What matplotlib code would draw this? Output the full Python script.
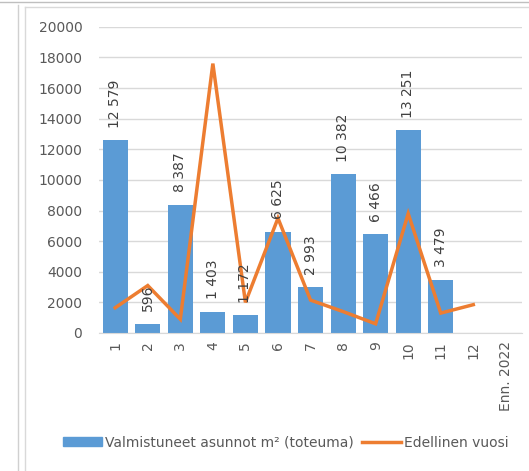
import numpy as np
import matplotlib.pyplot as plt
from matplotlib.lines import Line2D

# kuukaudet + ennuste
categories = ["1", "2", "3", "4", "5", "6", "7", "8", "9", "10", "11", "12", "Enn. 2022"]
toteuma = [12579, 596, 8387, 1403, 1172, 6625, 2993, 10382, 6466, 13251, 3479, np.nan, np.nan]
edellinen = [1650, 3100, 900, 17600, 2000, 7500, 2150, 1400, 600, 7800, 1300, 1850, np.nan]

blue = "#5B9BD5"
orange = "#ED7D31"
grey_txt = "#595959"

fig = plt.figure(figsize=(5.29, 4.71), dpi=100)
ax = fig.add_axes([0.187, 0.293, 0.80, 0.65])

x = np.arange(len(categories))
bars = ax.bar(x, toteuma, width=0.77, color=blue, zorder=2)
ax.plot(x, edellinen, color=orange, lw=2.5, zorder=3, solid_joinstyle="miter")

for xi, v in zip(x, toteuma):
    if np.isnan(v):
        continue
    lbl = f"{int(v):,}".replace(",", " ")
    ax.annotate(lbl, (xi, v), xytext=(0, 9), textcoords="offset points",
                rotation=90, ha="center", va="bottom", fontsize=10, color="#404040", zorder=4)

ax.set_xlim(-0.5, len(categories) - 0.5)
ax.set_ylim(0, 20000)
ax.set_yticks(np.arange(0, 20001, 2000))
ax.set_xticks(x)
ax.set_xticklabels(categories, rotation=90)
ax.tick_params(axis="both", length=0, labelsize=10, colors=grey_txt)
ax.tick_params(axis="y", pad=12)
ax.tick_params(axis="x", pad=6)
ax.grid(axis="y", color="#D9D9D9", lw=1, zorder=0)
for s in ["left", "right", "top"]:
    ax.spines[s].set_visible(False)
ax.spines["bottom"].set_color("#D9D9D9")

# legend
handles = [plt.Rectangle((0, 0), 1, 1, color=blue), Line2D([0], [0], color=orange, lw=2.5)]
fig.legend(handles, ["Valmistuneet asunnot m² (toteuma)", "Edellinen vuosi"],
           loc="center", bbox_to_anchor=(0.54, 0.06), ncol=2, frameon=False,
           fontsize=10, handlelength=2.8, handleheight=0.6, columnspacing=0.6,
           handletextpad=0.2, labelcolor=grey_txt)

# panel borders
fig.add_artist(Line2D([0.034, 0.034], [0, 0.99], color="#D0D0D0", lw=1))
fig.add_artist(Line2D([0.047, 0.047], [0, 0.985], color="#D9D9D9", lw=1))
fig.add_artist(Line2D([0.047, 1.0], [0.985, 0.985], color="#D9D9D9", lw=1))
fig.add_artist(Line2D([0.0, 1.0], [0.995, 0.995], color="#BFBFBF", lw=1))

fig.savefig("out.png", dpi=100)
